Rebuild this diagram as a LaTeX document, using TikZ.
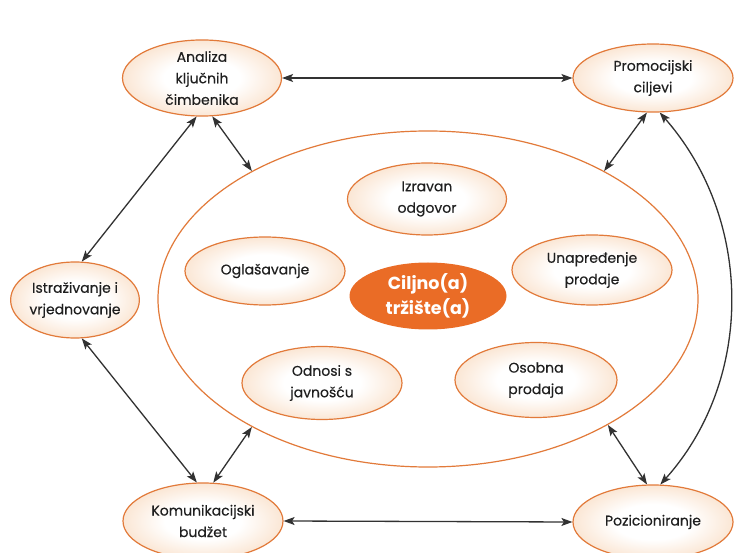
\documentclass[tikz,border=0pt]{standalone}
\usepackage{fontspec}
\setmainfont{Poppins}
\newfontfamily\lblfont{Poppins}[FakeBold=0.35]
\usetikzlibrary{shapes.geometric,arrows.meta}
\definecolor{peachc}{RGB}{244,192,146}
\definecolor{ostroke}{RGB}{226,122,58}
\definecolor{ofill}{RGB}{234,108,38}
\definecolor{arrc}{RGB}{50,50,50}
\pgfdeclareradialshading{peachsh}{\pgfpoint{0bp}{0bp}}{color(0bp)=(white); color(12bp)=(white); color(32bp)=(peachc!60); color(50bp)=(peachc)}
\tikzset{
  lbl/.style={ellipse, draw=ostroke, line width=1.2pt, shading=peachsh, inner sep=0pt, align=center,
     font=\lblfont\fontsize{14}{21.5}\selectfont, text=black!88},
  core/.style={ellipse, fill=ofill, inner sep=0pt, align=center,
     font=\fontsize{17.5}{25}\selectfont\bfseries, text=white},
  big/.style={ellipse, draw=ostroke, line width=1.2pt, fill=white, inner sep=0pt},
  dbl/.style={arrc, line width=1.3pt, {Stealth[length=11pt,width=8pt,inset=2.5pt]}-{Stealth[length=11pt,width=8pt,inset=2.5pt]}}
}
\begin{document}
\begin{tikzpicture}[x=1pt,y=-1pt]
\useasboundingbox (0,0) rectangle (745,553);
\fill[white] (0,0) rectangle (745,553);
% big ellipse
\node[big, minimum width=540, minimum height=336] (big) at (428,299) {};
% outer nodes
\node[lbl, minimum width=159, minimum height=69] (ana) at (202,78) {Analiza\\ključnih\\čimbenika};
\node[lbl, minimum width=160, minimum height=68] (pro) at (653,78) {Promocijski\\ciljevi};
\node[lbl, minimum width=128, minimum height=76] (ist) at (75,300) {Istraživanje i\\vrjednovanje};
\node[lbl, minimum width=160, minimum height=76] (kom) at (203,521) {Komunikacijski\\budžet};
\node[lbl, minimum width=160, minimum height=74] (poz) at (653,522) {Pozicioniranje};
% inner nodes
\node[lbl, minimum width=159, minimum height=72] (izr) at (427,199) {Izravan\\odgovor};
\node[lbl, minimum width=160, minimum height=68] (ogl) at (265,271) {Oglašavanje};
\node[lbl, minimum width=160, minimum height=70] (una) at (592,270) {Unapređenje\\prodaje};
\node[core, minimum width=157, minimum height=67] (cil) at (428,296) {Ciljno(a)\\tržište(a)};
\node[lbl, minimum width=160, minimum height=73] (odn) at (322,383) {Odnosi s\\javnošću};
\node[lbl, minimum width=162, minimum height=75] (oso) at (536,380) {Osobna\\prodaja};
% connectors
\draw[dbl] (ana.east) -- (pro.west);
\draw[dbl] (kom.east) -- (poz.west);
\draw[dbl] (ist.80) -- (ana.-98);
\draw[dbl] (ana.-75) -- (big.144);
\draw[dbl] (pro.-100) -- (big.36);
\draw[dbl] (big.-35) -- (poz.99);
\draw[dbl] (ist.-80) -- (kom.99);
\draw[dbl] (kom.75) -- (big.-144);
\draw[dbl] (pro.-79) .. controls (754,220) and (754,380) .. (poz.79);
\end{tikzpicture}
\end{document}
